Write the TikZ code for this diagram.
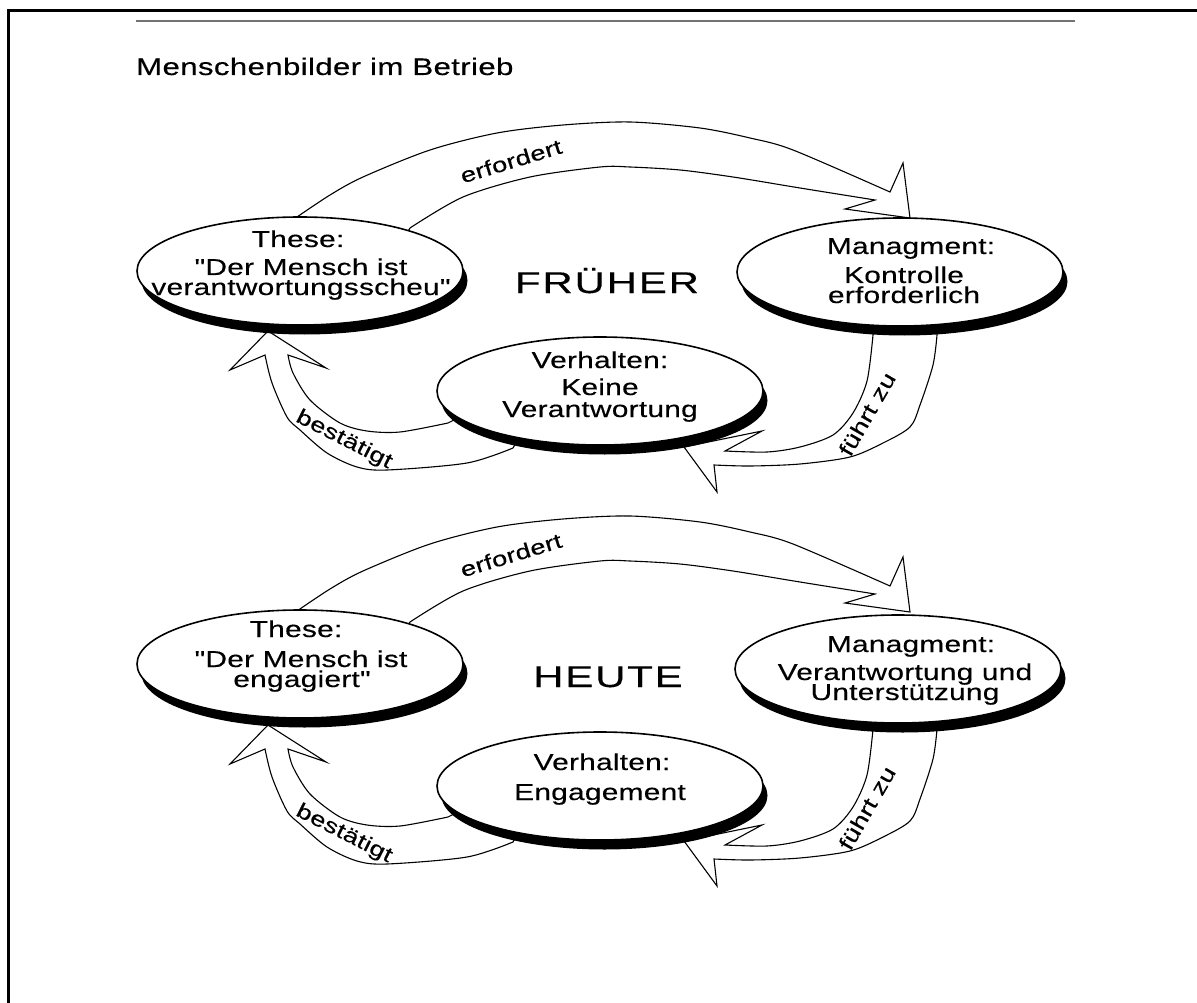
\documentclass[tikz,border=0pt]{standalone}
\usepackage{fontspec}
\setmainfont{Liberation Sans}
\newfontfamily\labfont[FakeStretch=1.3,LetterSpace=1,FakeBold=0.3]{Liberation Sans}
\newfontfamily\headfont[FakeStretch=1.4,LetterSpace=6,FakeBold=0.3]{Liberation Sans}
\newfontfamily\titlefont[FakeStretch=1.3,LetterSpace=1.5,FakeBold=0.3]{Liberation Sans}
\usetikzlibrary{shapes.geometric,shadows}
\tikzset{
  ell/.style={ellipse, draw, line width=1.6pt, fill=white, minimum width=326pt, minimum height=108pt, inner sep=0pt,
    drop shadow={shadow xshift=4.5pt, shadow yshift=-9.5pt, fill=black, opacity=1}},
  etext/.style={font=\labfont\fontsize{23}{23}\selectfont, anchor=base, inner sep=0pt},
  lbl/.style={font=\labfont\fontsize{21}{21}\selectfont, inner sep=0pt},
  head/.style={font=\headfont\fontsize{30}{30}\selectfont, anchor=base, inner sep=0pt},
  barrow/.style={draw, fill=white, line width=1.1pt, line join=miter},
  erfarrow/.pic={
    \filldraw[barrow] (300,240) -- plot[smooth] coordinates {(297,217) (330,195) (363,177) (430,150) (497,133) (563,125) (630,122) (700,128) (750,138) (793,150) (890,192)}
      -- (903,163) -- (910,218) -- (845,209) -- (875,200)
      -- plot[smooth] coordinates {(875,200) (800,188) (733,177) (680,170) (630,167) (600,167) (530,177) (463,197) (410,228)}
      -- (400,245) -- cycle;
  },
  bestarrow/.pic={
    \filldraw[barrow] (520,436) -- plot[smooth] coordinates {(513,448) (467,463) (387,470) (357,467) (327,453) (300,430) (287,417) (272,383) (265,355)}
      -- (230,370) -- (268,331) -- (326,368) -- (288,355)
      -- plot[smooth] coordinates {(288,355) (293,373) (310,400) (340,423) (367,431) (400,432) (448,423)}
      -- (470,412) -- cycle;
  },
  fuehrarrow/.pic={
    \filldraw[barrow] (870,300) -- plot[smooth] coordinates {(873,335) (867,381) (853,413) (833,435) (800,447) (767,452) (725,451)}
      -- (762,431) -- (684,447) -- (717,492) -- (714,465)
      -- plot[smooth] coordinates {(714,465) (750,466) (800,464) (850,457) (883,443) (910,427) (920,405) (933,365) (937,335)}
      -- (935,300) -- cycle;
  }
}
\begin{document}
\begin{tikzpicture}[x=1pt,y=-1pt]
\useasboundingbox (0,0) rectangle (1197,1003);
% frame and top rule
\coordinate (fb) at (8,1003);
\coordinate (fc) at (8,11);
\coordinate (fr) at (1197,11);
\draw[line width=3pt] (fb) -- (fc) -- (fr);
\coordinate (rl) at (136,21);
\coordinate (rr) at (1075,21);
\draw[line width=1.5pt, black!55] (rl) -- (rr);
\node[anchor=base west, inner sep=0pt, font=\titlefont\fontsize{24}{24}\selectfont] (title) at (136,75) {Menschenbilder im Betrieb};

% arrows
\pic at (0,0) {erfarrow};
\pic at (0,0) {bestarrow};
\pic at (0,0) {fuehrarrow};
\pic at (0,394) {erfarrow};
\pic at (0,394) {bestarrow};
\pic at (0,394) {fuehrarrow};

% ellipses FRUEHER
\node[ell] (theseA) at (300,271) {};
\node[ell] (mgmtA) at (900,272) {};
\node[ell] (verhA) at (600,391) {};
% ellipses HEUTE
\node[ell] (theseB) at (300,664) {};
\node[ell] (mgmtB) at (898,669) {};
\node[ell] (verhB) at (600,786) {};

% texts FRUEHER
\node[etext] (ta1) at (298,247) {These:};
\node[etext] (ta2) at (301,275) {"Der Mensch ist};
\node[etext] (ta3) at (301,295) {verantwortungsscheu"};
\node[etext] (ma1) at (911,254) {Managment:};
\node[etext] (ma2) at (904,283) {Kontrolle};
\node[etext] (ma3) at (904,303) {erforderlich};
\node[etext] (va1) at (600,368) {Verhalten:};
\node[etext] (va2) at (600,395) {Keine};
\node[etext] (va3) at (600,417) {Verantwortung};
\node[head] (fr1) at (607,293) {FRÜHER};

% texts HEUTE
\node[etext] (tb1) at (296,637) {These:};
\node[etext] (tb2) at (301,667) {"Der Mensch ist};
\node[etext] (tb3) at (302,687) {engagiert"};
\node[etext] (mb1) at (911,652) {Managment:};
\node[etext] (mb2) at (905,680) {Verantwortung und};
\node[etext] (mb3) at (905,700) {Unterstützung};
\node[etext] (vb1) at (602,770) {Verhalten:};
\node[etext] (vb2) at (600,800) {Engagement};
\node[head] (he1) at (608,687) {HEUTE};

% arrow labels
\node[lbl, rotate=17] (la1) at (511,161) {erfordert};
\node[lbl, rotate=-27] (la2) at (344,440) {bestätigt};
\node[lbl, rotate=60] (la3) at (867,414) {führt zu};
\node[lbl, rotate=17] (lb1) at (511,555) {erfordert};
\node[lbl, rotate=-27] (lb2) at (344,834) {bestätigt};
\node[lbl, rotate=60] (lb3) at (867,808) {führt zu};
\end{tikzpicture}
\end{document}
